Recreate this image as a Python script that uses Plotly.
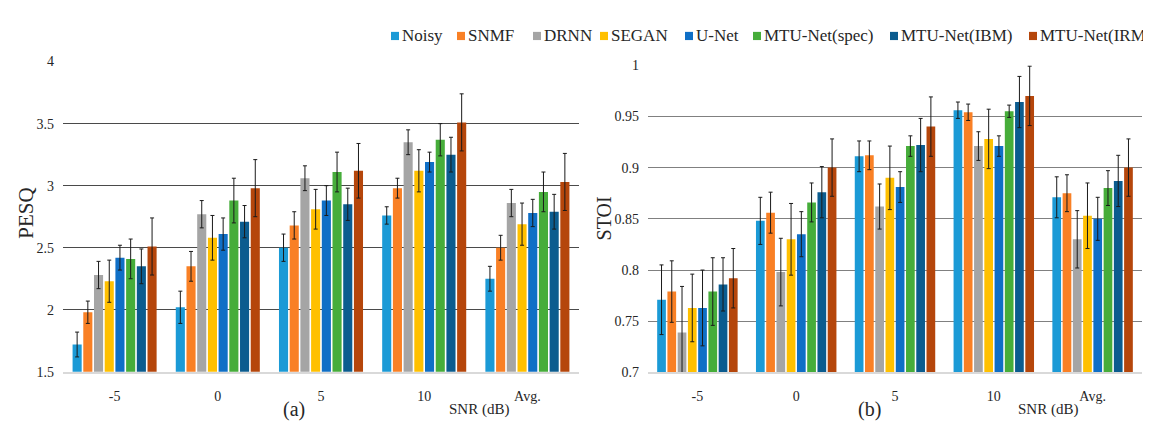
import plotly.graph_objects as go

W, H = 1151, 421

snr_labels = ["-5", "0", "5", "10", "Avg."]
methods = ["Noisy", "SNMF", "DRNN", "SEGAN", "U-Net", "MTU-Net(spec)", "MTU-Net(IBM)", "MTU-Net(IRM)"]
colors = ["#1B9AD6", "#F98025", "#A5A5A5", "#FFC000", "#0F6FC6", "#46AD3A", "#0B5C8F", "#B5460B"]

# PESQ means per method (over -5, 0, 5, 10, Avg.)
pesq_noisy = [1.72, 2.02, 2.50, 2.76, 2.25]
pesq_snmf = [1.98, 2.35, 2.68, 2.98, 2.50]
pesq_drnn = [2.28, 2.77, 3.06, 3.35, 2.86]
pesq_segan = [2.23, 2.58, 2.81, 3.12, 2.69]
pesq_unet = [2.42, 2.61, 2.88, 3.19, 2.78]
pesq_spec = [2.41, 2.88, 3.11, 3.37, 2.95]
pesq_ibm = [2.35, 2.71, 2.85, 3.25, 2.79]
pesq_irm = [2.51, 2.98, 3.12, 3.51, 3.03]

pesq_err_noisy = [0.10, 0.13, 0.11, 0.07, 0.10]
pesq_err_snmf = [0.09, 0.12, 0.11, 0.08, 0.10]
pesq_err_drnn = [0.11, 0.11, 0.10, 0.10, 0.11]
pesq_err_segan = [0.17, 0.18, 0.16, 0.17, 0.17]
pesq_err_unet = [0.10, 0.13, 0.12, 0.08, 0.11]
pesq_err_spec = [0.16, 0.18, 0.16, 0.13, 0.16]
pesq_err_ibm = [0.14, 0.13, 0.13, 0.14, 0.14]
pesq_err_irm = [0.23, 0.23, 0.22, 0.23, 0.23]

# STOI means
stoi_noisy = [0.771, 0.848, 0.911, 0.956, 0.871]
stoi_snmf = [0.779, 0.856, 0.912, 0.954, 0.875]
stoi_drnn = [0.739, 0.798, 0.862, 0.921, 0.830]
stoi_segan = [0.763, 0.830, 0.890, 0.928, 0.853]
stoi_unet = [0.763, 0.835, 0.881, 0.921, 0.850]
stoi_spec = [0.779, 0.866, 0.921, 0.955, 0.880]
stoi_ibm = [0.786, 0.876, 0.922, 0.964, 0.887]
stoi_irm = [0.792, 0.900, 0.940, 0.970, 0.900]

stoi_err_noisy = [0.034, 0.023, 0.015, 0.008, 0.020]
stoi_err_snmf = [0.030, 0.020, 0.014, 0.008, 0.018]
stoi_err_drnn = [0.045, 0.033, 0.022, 0.014, 0.028]
stoi_err_segan = [0.033, 0.035, 0.031, 0.029, 0.032]
stoi_err_unet = [0.037, 0.022, 0.015, 0.010, 0.021]
stoi_err_spec = [0.033, 0.019, 0.010, 0.006, 0.017]
stoi_err_ibm = [0.026, 0.025, 0.026, 0.025, 0.025]
stoi_err_irm = [0.029, 0.028, 0.029, 0.029, 0.028]

pesq_ticks = [1.5, 2, 2.5, 3, 3.5, 4]
stoi_ticks = [0.7, 0.75, 0.8, 0.85, 0.9, 0.95, 1]

pesq_vals = [pesq_noisy, pesq_snmf, pesq_drnn, pesq_segan, pesq_unet, pesq_spec, pesq_ibm, pesq_irm]
pesq_errs = [pesq_err_noisy, pesq_err_snmf, pesq_err_drnn, pesq_err_segan, pesq_err_unet, pesq_err_spec, pesq_err_ibm, pesq_err_irm]
stoi_vals = [stoi_noisy, stoi_snmf, stoi_drnn, stoi_segan, stoi_unet, stoi_spec, stoi_ibm, stoi_irm]
stoi_errs = [stoi_err_noisy, stoi_err_snmf, stoi_err_drnn, stoi_err_segan, stoi_err_unet, stoi_err_spec, stoi_err_ibm, stoi_err_irm]

FONT = "Liberation Serif"
TXT = "#262626"

fig = go.Figure()
for m, c, v, e in zip(methods, colors, pesq_vals, pesq_errs):
    fig.add_trace(go.Bar(
        x=snr_labels, y=v, name=m, marker=dict(color=c, line=dict(width=0)),
        error_y=dict(type="data", array=e, visible=True, color="#1a1a1a", thickness=1, width=2),
        xaxis="x", yaxis="y", showlegend=False))
for m, c, v, e in zip(methods, colors, stoi_vals, stoi_errs):
    fig.add_trace(go.Bar(
        x=snr_labels, y=v, name=m, marker=dict(color=c, line=dict(width=0)),
        error_y=dict(type="data", array=e, visible=True, color="#1a1a1a", thickness=1, width=2),
        xaxis="x2", yaxis="y2", showlegend=False))

def px_x(p):
    return p / W

def px_y(p):
    return 1 - p / H

xcommon = dict(type="category", showgrid=False, showline=True, linecolor="#d9d9d9", linewidth=2,
               ticks="", tickfont=dict(family=FONT, size=14, color=TXT), ticklabelstandoff=10,
               zeroline=False, fixedrange=True)
ycommon = dict(showline=False, ticks="", zeroline=False,
               tickfont=dict(family=FONT, size=14, color=TXT), ticklabelstandoff=8)

fig.update_layout(
    width=W, height=H,
    margin=dict(l=0, r=0, t=0, b=0),
    paper_bgcolor="white", plot_bgcolor="white",
    font=dict(family=FONT, color=TXT),
    barmode="group", bargap=0.17, bargroupgap=0.15,
    showlegend=False,
    xaxis=dict(domain=[px_x(55), px_x(571)], anchor="y", **xcommon),
    yaxis=dict(domain=[px_y(370), px_y(48.3)], anchor="x", range=[1.5, 4], tickvals=pesq_ticks,
               ticktext=[f"{t:g}" for t in pesq_ticks], gridcolor="#4a4a4a", gridwidth=1.2, **ycommon),
    xaxis2=dict(domain=[px_x(640), px_x(1134)], anchor="y2", **xcommon),
    yaxis2=dict(domain=[px_y(370.7), px_y(52)], anchor="x2", range=[0.7, 1], tickvals=stoi_ticks,
                ticktext=[f"{t:g}" for t in stoi_ticks], gridcolor="#808080", gridwidth=1.2, **ycommon),
)

# Legend (custom, compact like the original)
legend_x = [383, 449, 525, 592, 677, 745, 882, 1021]
legend_y = 21.5
for m, c, lx in zip(methods, colors, legend_x):
    fig.add_shape(type="rect", xref="paper", yref="paper",
                  x0=px_x(lx), x1=px_x(lx + 8), y0=px_y(legend_y + 4.5), y1=px_y(legend_y - 4),
                  fillcolor=c, line=dict(width=0))
    fig.add_annotation(x=px_x(lx + 9), y=px_y(legend_y), xref="paper", yref="paper",
                       text=m, showarrow=False, xanchor="left", yanchor="middle",
                       font=dict(family=FONT, size=17, color=TXT))

titles = [
    ("PESQ", 18, 206, 21, -90),
    ("STOI", 596, 211, 20, -90),
    ("SNR (dB)", 471, 409, 15, 0),
    ("SNR (dB)", 1040, 409, 15, 0),
    ("(a)", 286, 409, 20, 0),
    ("(b)", 861, 409, 20, 0),
]
for t, tx, ty, fs, ang in titles:
    fig.add_annotation(x=px_x(tx), y=px_y(ty), xref="paper", yref="paper", text=t,
                       showarrow=False, xanchor="center", yanchor="middle", textangle=ang,
                       font=dict(family=FONT, size=fs, color=TXT))

fig.write_html("out.html")
